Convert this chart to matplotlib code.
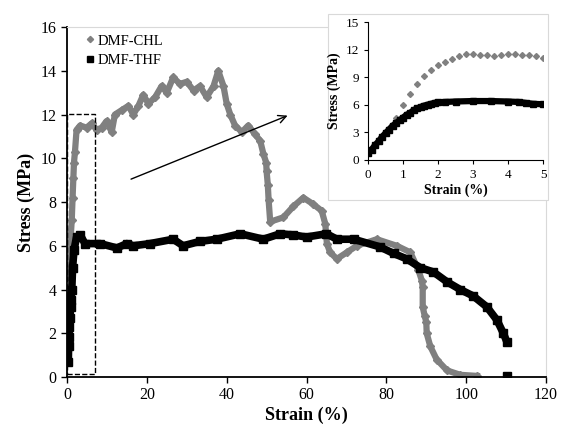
import matplotlib.pyplot as plt
from matplotlib.patches import Rectangle

plt.rcParams['font.family'] = ['Liberation Serif', 'DejaVu Serif']

# DMF-CHL (gray diamonds), strain % / stress MPa
chl_x = [0.3, 0.8, 1.2, 1.4, 1.6, 1.75, 2.0, 2.4, 3.3, 4.9, 6.2, 7.4, 8.7, 9.9, 11.2, 12.0,
         13.7, 15.4, 16.6, 17.9, 19.1, 20.4, 22.1, 23.7, 25.0, 26.6, 28.3, 30.0, 31.7, 33.3,
         35.0, 36.7, 37.9, 39.2, 40.0, 40.9, 42.1, 43.8, 45.4, 47.1, 48.4, 49.2, 49.9, 50.0,
         50.3, 50.5, 50.9, 54.2, 56.7, 59.2, 61.7, 63.8, 64.7, 65.1, 65.9, 67.6, 70.1, 72.6,
         77.6, 82.6, 86.0, 88.0, 88.9, 89.1, 89.1, 89.6, 90.0, 90.1, 91.0, 92.6, 95.2, 98.5,
         102.7]
chl_y = [4.6, 6.0, 7.2, 8.2, 9.1, 9.8, 10.3, 11.3, 11.5, 11.4, 11.6, 11.3, 11.4, 11.7, 11.2, 12.0,
         12.2, 12.4, 12.0, 12.4, 12.9, 12.5, 12.8, 13.3, 13.0, 13.7, 13.4, 13.5, 13.1, 13.3,
         12.8, 13.3, 14.0, 13.3, 12.5, 12.0, 11.5, 11.2, 11.5, 11.1, 10.8, 10.2, 9.8, 9.4,
         8.8, 8.1, 7.1, 7.3, 7.8, 8.2, 7.9, 7.6, 7.0, 6.1, 5.7, 5.4, 5.7, 6.0,
         6.3, 6.0, 5.7, 4.9, 4.4, 4.1, 3.2, 2.8, 2.5, 2.0, 1.4, 0.8, 0.3, 0.1,
         0.05]

# DMF-THF (black squares)
thf_x = [0.33, 0.4, 0.5, 0.6, 0.75, 0.9, 1.0, 1.2, 1.4, 1.75, 2.4, 3.3, 4.5, 8.3, 12.5, 15.0,
         16.6, 20.8, 26.6, 29.1, 33.3, 37.5, 43.4, 49.2, 53.4, 56.5, 60.0, 65.0, 67.6, 71.8,
         78.4, 81.8, 85.1, 88.5, 91.8, 95.2, 98.5, 101.8, 105.2, 107.7, 109.3, 110.2]
thf_y = [0.7, 1.4, 1.85, 2.3, 2.7, 3.2, 3.5, 4.0, 5.0, 5.8, 6.4, 6.5, 6.1, 6.1, 5.9, 6.1,
         6.0, 6.1, 6.3, 6.0, 6.2, 6.3, 6.55, 6.3, 6.55, 6.5, 6.4, 6.55, 6.3, 6.3,
         5.95, 5.65, 5.4, 5.0, 4.8, 4.35, 4.0, 3.7, 3.2, 2.6, 2.0, 1.6]
thf_end_x = [110.2]
thf_end_y = [0.05]

# inset (0-5 % strain)
in_chl_x = [0.8, 1.0, 1.2, 1.4, 1.6, 1.8, 2.0, 2.2, 2.4, 2.6, 2.8, 3.0, 3.2, 3.4, 3.6,
            3.8, 4.0, 4.2, 4.4, 4.6, 4.8, 5.0]
in_chl_y = [4.6, 6.0, 7.2, 8.3, 9.1, 9.8, 10.3, 10.7, 11.0, 11.3, 11.5, 11.5, 11.4, 11.4,
            11.3, 11.4, 11.5, 11.5, 11.4, 11.4, 11.3, 11.1]
in_thf_x = [0.0, 0.1, 0.2, 0.3, 0.4, 0.5, 0.6, 0.7, 0.8, 0.9, 1.0, 1.1, 1.2, 1.3, 1.4, 1.5,
            1.6, 1.7, 1.8, 1.9, 2.0, 2.2, 2.5, 3.0, 3.5, 4.0, 4.3, 4.5, 4.7, 5.0]
in_thf_y = [0.7, 1.1, 1.6, 2.0, 2.5, 2.9, 3.3, 3.7, 4.0, 4.3, 4.6, 4.9, 5.1, 5.4, 5.6, 5.75,
            5.9, 6.0, 6.1, 6.2, 6.25, 6.3, 6.35, 6.4, 6.4, 6.35, 6.3, 6.2, 6.1, 6.05]

gray = '#808080'
fig = plt.figure(figsize=(5.61, 4.32), dpi=100, facecolor='white')
ax = fig.add_axes([0.1194, 0.1273, 0.854, 0.81])

# main curves: thick line underneath to make the dense-marker band
ax.plot(chl_x, chl_y, color=gray, lw=4.5, solid_joinstyle='round', zorder=2)
ax.plot(chl_x, chl_y, 'D', color=gray, ms=4.5, label='DMF-CHL', zorder=2)
ax.plot(thf_x, thf_y, color='black', lw=5.5, solid_joinstyle='round', zorder=3)
ax.plot(thf_x, thf_y, 's', color='black', ms=5.5, label='DMF-THF', zorder=3)
ax.plot(thf_end_x, thf_end_y, 's', color='black', ms=5.5, zorder=3)

ax.set_xlim(0, 120)
ax.set_ylim(0, 16)
ax.set_xticks(range(0, 121, 20))
ax.set_yticks(range(0, 17, 2))
ax.tick_params(direction='out', labelsize=11.5, length=4, width=1)
for s in ['left', 'bottom']:
    ax.spines[s].set_linewidth(1.3)
for s in ['top', 'right']:
    ax.spines[s].set_color('#d9d9d9')
ax.set_xlabel('Strain (%)', fontsize=13, fontweight='bold', labelpad=2)
ax.set_ylabel('Stress (MPa)', fontsize=13, fontweight='bold', labelpad=4)

ax.add_patch(Rectangle((0, 0.13), 7.1, 11.9, fill=False, ls='--', lw=1, ec='black', zorder=4))
ax.annotate('', xy=(55.9, 12.0), xytext=(15.4, 9.0),
            arrowprops=dict(arrowstyle='->', color='black', lw=1, mutation_scale=14))

ax.legend(loc='upper left', frameon=False, fontsize=10.5, handlelength=0.5, handletextpad=0.3,
          markerscale=0.7, borderaxespad=0.2, borderpad=0.3, labelspacing=0.45,
          bbox_to_anchor=(0.025, 1.0))

# inset panel with white box
fig.patches.append(Rectangle((0.585, 0.537), 0.392, 0.43, transform=fig.transFigure,
                             facecolor='white', edgecolor='#d9d9d9', lw=0.8, zorder=5))
ins = fig.add_axes([0.656, 0.630, 0.312, 0.319])
ins.set_zorder(6)
ins.plot(in_chl_x, in_chl_y, 'D', color=gray, ms=3)
ins.plot(in_thf_x, in_thf_y, color='black', lw=4.5, solid_joinstyle='round')
ins.plot(in_thf_x, in_thf_y, 's', color='black', ms=4.5)
ins.set_xlim(0, 5)
ins.set_ylim(0, 15)
ins.set_xticks(range(0, 6))
ins.set_yticks(range(0, 16, 3))
ins.tick_params(direction='out', labelsize=9.5, length=3)
ins.spines['top'].set_visible(False)
ins.spines['right'].set_visible(False)
ins.set_xlabel('Strain (%)', fontsize=10, fontweight='bold', labelpad=2)
ins.set_ylabel('Stress (MPa)', fontsize=10, fontweight='bold', labelpad=3)

fig.savefig('out.png', dpi=100, facecolor='white')
